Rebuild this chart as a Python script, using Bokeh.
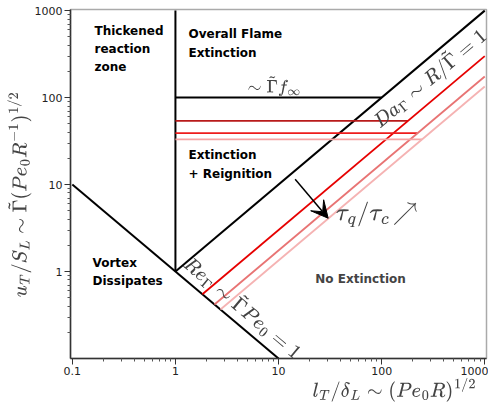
import numpy as np
from bokeh.plotting import figure
from bokeh.models import Label, Arrow, VeeHead, FixedTicker
from bokeh.embed import file_html
from bokeh.resources import INLINE

# ---- data ----
x_major = [0.1, 1, 10, 100, 1000]
y_major = [1, 10, 100, 1000]
x_labels = ["0.1", "1", "10", "100", "1000"]
y_labels = ["1", "10", "100", "1000"]

vortex_x = [0.1, 10]
vortex_y = [10, 0.1]
thick_x = [1, 1]
thick_y = [1, 1000]
da_x = [1, 1000]
da_y = [1, 1000]
gf_x = [1, 100]
gf_y = [100, 100]

plateau_y = [54, 39, 33]          # horizontal red levels
slope_c = [0.30, 0.175, 0.134]    # y = c * x diagonal red lines
x_end = 1000
h_colors = ["#b81a1a", "#ee1c1c", "#f5a3a3"]
d_colors = ["#e60000", "#e87474", "#f5b3b3"]

p = figure(width=488, height=408, x_axis_type="log", y_axis_type="log",
           x_range=(0.096, 1040), y_range=(0.1, 1030),
           output_backend="svg", toolbar_location=None,
           min_border_left=70, min_border_right=2, min_border_top=9,
           min_border_bottom=50)
p.xgrid.visible = False
p.ygrid.visible = False
p.outline_line_color = "#aaaaaa"
p.outline_line_width = 1.5

# minor ticks
xminor = [m * 10.0 ** e for e in range(-1, 3) for m in range(2, 10)]
yminor = [m * 10.0 ** e for e in range(-1, 3) for m in range(2, 10)]
p.xaxis.ticker = FixedTicker(ticks=x_major, minor_ticks=xminor)
p.yaxis.ticker = FixedTicker(ticks=y_major, minor_ticks=yminor)
p.xaxis.major_label_overrides = {v: s for v, s in zip(x_major, x_labels)}
p.yaxis.major_label_overrides = {v: s for v, s in zip(y_major, y_labels)}
for ax in (p.xaxis[0], p.yaxis[0]):
    ax.major_tick_in = 0
    ax.major_tick_out = 6
    ax.minor_tick_in = 0
    ax.minor_tick_out = 3
    ax.major_label_standoff = 2
    ax.axis_line_color = "#333333"
    ax.axis_line_width = 1.5
    ax.major_tick_line_color = "#333333"
    ax.minor_tick_line_color = "#555555"
    ax.major_label_text_font = "DejaVu Sans"
    ax.major_label_text_font_size = "11px"
    ax.major_label_text_color = "#222222"
    ax.axis_label_text_font_style = "normal"
    ax.axis_label_standoff = 0

p.xaxis.axis_label_text_font_size = "17px"
p.yaxis.axis_label_text_font_size = "17px"
p.xaxis.axis_label = r"$$\hspace{11.4em}l_T/\delta_L \sim (Pe_0R)^{1/2}$$"
p.yaxis.axis_label = r"$$u_T/S_L \sim \tilde{\Gamma}(Pe_0R^{-1})^{1/2}\hspace{1em}$$"

# ---- regime boundaries ----
for xs, ys in [(vortex_x, vortex_y), (thick_x, thick_y), (da_x, da_y), (gf_x, gf_y)]:
    p.line(xs, ys, line_color="black", line_width=2)

# ---- red quench lines ----
for yl, c, hc, dc in zip(plateau_y, slope_c, h_colors, d_colors):
    p.line([1, yl / c], [yl, yl], line_color=hc, line_width=1.8)
    x0 = 1 / np.sqrt(c)
    p.line([x0, x_end], [c * x0, c * x_end], line_color=dc, line_width=1.8)

# ---- region labels ----
def blabel(x, y, txt):
    p.add_layout(Label(x=x, y=y, text=txt, text_font="DejaVu Sans",
                       text_font_style="bold", text_font_size="12px",
                       text_color="black", text_baseline="top",
                       text_line_height=1.3))

blabel(0.164, 700, "Thickened\nreaction\nzone")
blabel(1.34, 640, "Overall Flame\nExtinction")
blabel(1.34, 26, "Extinction\n+ Reignition")
blabel(0.157, 1.5, "Vortex\nDissipates")
p.add_layout(Label(x=22.7, y=0.83, text="No Extinction", text_font="DejaVu Sans",
                   text_font_style="bold", text_font_size="12px",
                   text_baseline="middle"))

# ---- math labels ----
p.add_layout(Label(x=5.0, y=104, text=r"$$\sim \tilde{\Gamma} f_\infty$$",
                   text_font_size="15px", text_baseline="bottom"))
p.add_layout(Label(x=290, y=170, text=r"$$Da_\Gamma \sim R/\tilde{\Gamma} = 1$$",
                   text_font_size="16px", angle=0.698, text_align="center",
                   text_baseline="middle"))
p.add_layout(Label(x=4.6, y=0.395, text=r"$$Re_\Gamma \sim \tilde{\Gamma}Pe_0 = 1$$",
                   text_font_size="16px", angle=-0.698, text_align="center",
                   text_baseline="middle"))
p.add_layout(Label(x=36, y=4.55, text=r"$$\tau_q/\tau_c\!\nearrow$$",
                   text_font_size="21px", text_baseline="middle"))

# arrow
p.add_layout(Arrow(end=VeeHead(size=17, fill_color="black", line_color="black"),
                   x_start=14.5, y_start=11.5, x_end=30.3, y_end=4.1,
                   line_color="black", line_width=1.5))

open("out.html", "w").write(file_html(p, INLINE))
